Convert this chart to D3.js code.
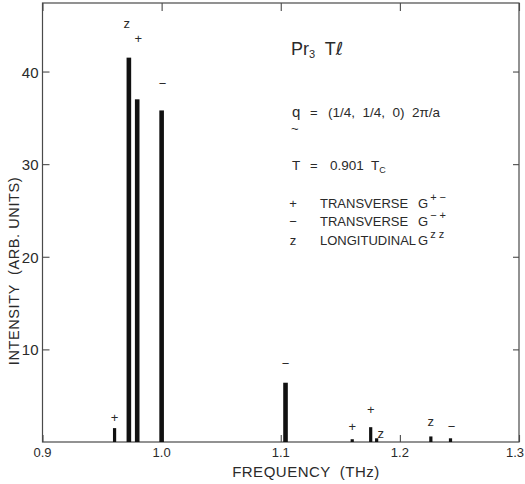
<!DOCTYPE html>
<html><head><meta charset="utf-8">
<script src="https://cdn.jsdelivr.net/npm/d3@7"></script>
<style>
html,body{margin:0;padding:0;background:#fff;}
svg text{font-family:"Liberation Sans","DejaVu Sans",sans-serif;fill:#2a2a2a;white-space:pre;}
</style></head>
<body>
<svg id="chart" width="525" height="484"></svg>
<script>
// ---- data ----
const frequencies = [0.9605, 0.9725, 0.9795, 1.0, 1.104, 1.160, 1.1755, 1.1805, 1.226, 1.2425];
const intensities = [1.5, 41.5, 37.0, 35.8, 6.4, 0.3, 1.6, 0.4, 0.6, 0.4];
const modes = ["+", "z", "+", "\u2212", "\u2212", "+", "+", "z", "z", "\u2212"];
const xTicks = [0.9, 1.0, 1.1, 1.2, 1.3];
const xTickLabels = ["0.9", "1.0", "1.1", "1.2", "1.3"];
const yTicks = [10, 20, 30, 40];
const yTickLabels = ["10", "20", "30", "40"];
const legendSymbols = ["+", "\u2212", "z"];
const legendNames = ["TRANSVERSE", "TRANSVERSE", "LONGITUDINAL"];
const legendSup = ["+ \u2212", "\u2212 +", "z z"];

// ---- layout (annotation offsets, px) ----
const labelDx = [0, -2, 1, 1, 0, 0, 0, 4, 0, 1];
const labelDy = [-10, -34, -60, -26, -19, -12, -17, -4, -14, -11];

const svg = d3.select("#chart");
const L = 42.5, R = 519, T = 3, B = 442;
const x = d3.scaleLinear().domain([0.9, 1.3]).range([L, R]);
const y = d3.scaleLinear().domain([0, 47.4]).range([B, T]);
const frameColor = "#4a4a4a";

// frame
svg.append("rect").attr("x", L).attr("y", T).attr("width", R - L).attr("height", B - T)
  .attr("fill", "none").attr("stroke", frameColor).attr("stroke-width", 1.2);

// axes with inward ticks
const xAxisB = d3.axisBottom(x).tickValues(xTicks).tickSize(-7).tickFormat("");
const xAxisT = d3.axisTop(x).tickValues(xTicks).tickSize(-8).tickFormat("");
const yAxisL = d3.axisLeft(y).tickValues(yTicks).tickSize(-7).tickFormat("");
const yAxisR = d3.axisRight(y).tickValues(yTicks).tickSize(-6).tickFormat("");
function styleAxis(g){ g.select(".domain").remove(); g.selectAll("line").attr("stroke", frameColor).attr("stroke-width", 1.1); }
svg.append("g").attr("transform", `translate(0,${B})`).call(xAxisB).call(styleAxis);
svg.append("g").attr("transform", `translate(0,${T})`).call(xAxisT).call(styleAxis);
svg.append("g").attr("transform", `translate(${L},0)`).call(yAxisL).call(styleAxis);
svg.append("g").attr("transform", `translate(${R},0)`).call(yAxisR).call(styleAxis);

// tick labels
svg.selectAll(".xl").data(xTicks).enter().append("text")
  .attr("x", (d, i) => i === xTicks.length - 1 ? 524 : x(d))
  .attr("y", B + 15)
  .attr("text-anchor", (d, i) => i === xTicks.length - 1 ? "end" : "middle")
  .attr("font-size", 13).text((d, i) => xTickLabels[i]);
svg.selectAll(".yl").data(yTicks).enter().append("text")
  .attr("x", L - 4).attr("y", d => y(d) + 6).attr("text-anchor", "end")
  .attr("font-size", 15).text((d, i) => yTickLabels[i]);

// axis titles
svg.append("text").attr("x", 306).attr("y", 477).attr("text-anchor", "middle")
  .attr("font-size", 15).attr("letter-spacing", 0.5).text("FREQUENCY  (THz)");
svg.append("text").attr("transform", "translate(19,271) rotate(-90)").attr("text-anchor", "middle")
  .attr("font-size", 14.5).attr("letter-spacing", 0.6).text("INTENSITY  (ARB. UNITS)");

// bars
const idx = d3.range(frequencies.length);
svg.selectAll(".bar").data(idx).enter().append("rect")
  .attr("x", i => x(frequencies[i]) - (intensities[i] > 5 ? 2.3 : 1.6))
  .attr("width", i => intensities[i] > 5 ? 4.6 : 3.2)
  .attr("y", i => y(intensities[i]))
  .attr("height", i => y(0) - y(intensities[i]))
  .attr("fill", "#111");

// bar labels
svg.selectAll(".bl").data(idx).enter().append("text")
  .attr("x", i => x(frequencies[i]) + labelDx[i])
  .attr("y", i => y(intensities[i]) + labelDy[i] + 4)
  .attr("text-anchor", "middle").attr("font-size", 13)
  .text(i => modes[i]);

// annotations
const ann = svg.append("g");
const t1 = ann.append("text").attr("x", 291).attr("y", 55).attr("font-size", 18);
t1.append("tspan").text("Pr");
t1.append("tspan").attr("font-size", 11).attr("dy", 3).text("3");
t1.append("tspan").attr("dy", -3).text("  T");
t1.append("tspan").attr("font-family", "DejaVu Sans").text("\u2113");

ann.append("text").attr("x", 292).attr("y", 117).attr("font-size", 15).text("q");
ann.append("text").attr("x", 291).attr("y", 133).attr("font-size", 13).text("~");
ann.append("text").attr("x", 310).attr("y", 117).attr("font-size", 13).text("=");
ann.append("text").attr("x", 328).attr("y", 117).attr("font-size", 13.5).text("(1/4,  1/4,  0)  2\u03c0/a");

ann.append("text").attr("x", 292).attr("y", 170).attr("font-size", 13.5).text("T");
ann.append("text").attr("x", 310).attr("y", 170).attr("font-size", 13).text("=");
const t3 = ann.append("text").attr("x", 330).attr("y", 170).attr("font-size", 13.5);
t3.append("tspan").text("0.901  T");
t3.append("tspan").attr("font-size", 9).attr("dy", 3).text("C");

const rowY = [208, 226, 245];
legendSymbols.forEach((s, i) => {
  ann.append("text").attr("x", 293).attr("y", rowY[i]).attr("text-anchor", "middle").attr("font-size", 13).text(s);
  ann.append("text").attr("x", 320).attr("y", rowY[i]).attr("font-size", 13).text(legendNames[i]);
  const g = ann.append("text").attr("x", 418).attr("y", rowY[i]).attr("font-size", 13);
  g.append("tspan").text("G");
  g.append("tspan").attr("font-size", 11).attr("dy", -7).attr("dx", 2).text(legendSup[i]);
});
</script>
</body></html>
